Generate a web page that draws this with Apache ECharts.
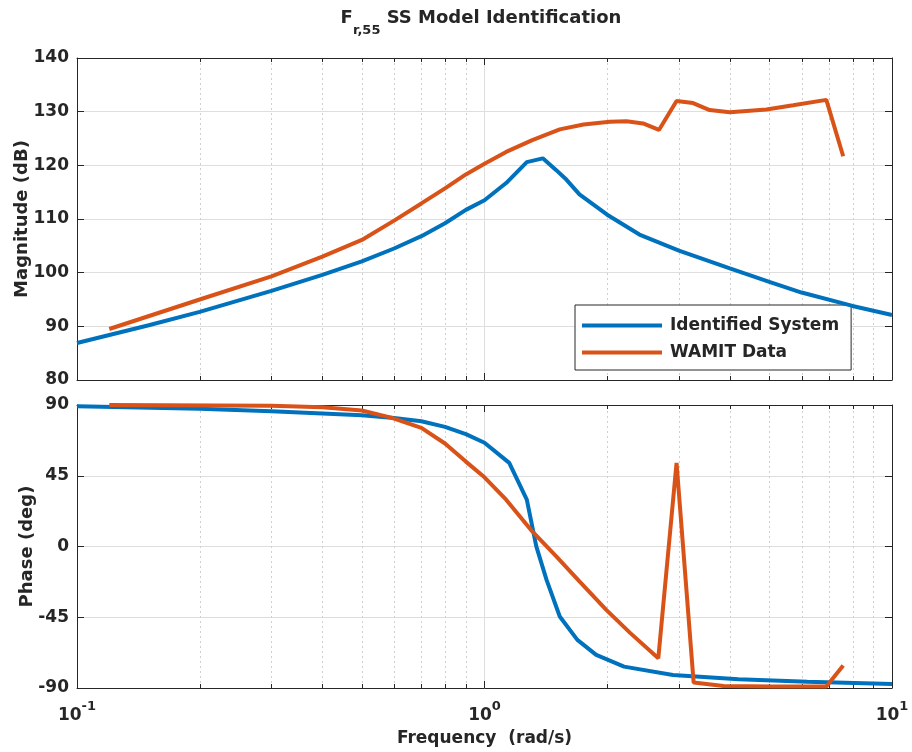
<!DOCTYPE html>
<html><head><meta charset="utf-8">
<script src="https://cdn.jsdelivr.net/npm/echarts@6/dist/echarts.min.js"></script>
<style>html,body{margin:0;padding:0;background:#fff}#c{width:912px;height:752px}</style>
</head><body><div id="c"></div>
<script>
// ---- data ----
const ID_MAG_FREQ = [0.1, 0.15, 0.2, 0.3, 0.4, 0.5, 0.6, 0.7, 0.8, 0.9, 1.0, 1.13, 1.27, 1.39, 1.5, 1.59, 1.71, 2.0, 2.4, 3.0, 4.0, 5.0, 6.0, 8.0, 10];
const ID_MAG      = [86.9, 90.2, 92.7, 96.6, 99.6, 102.1, 104.5, 106.8, 109.2, 111.7, 113.5, 116.7, 120.6, 121.3, 119.1, 117.3, 114.6, 110.8, 107.1, 104.1, 100.8, 98.3, 96.3, 93.8, 92.1];

const WAMIT_MAG_FREQ = [0.12, 0.2, 0.3, 0.4, 0.5, 0.6, 0.7, 0.8, 0.9, 1.0, 1.13, 1.31, 1.53, 1.75, 2.03, 2.23, 2.45, 2.68, 2.96, 3.25, 3.57, 4.0, 4.92, 5.72, 6.9, 7.59];
const WAMIT_MAG      = [89.5, 95.0, 99.3, 103.0, 106.1, 109.7, 112.9, 115.7, 118.3, 120.3, 122.5, 124.7, 126.7, 127.6, 128.1, 128.2, 127.8, 126.6, 132.0, 131.6, 130.3, 129.9, 130.4, 131.2, 132.2, 121.7];

const ID_PH_FREQ = [0.1, 0.2, 0.3, 0.5, 0.6, 0.7, 0.8, 0.9, 1.0, 1.15, 1.27, 1.34, 1.42, 1.53, 1.69, 1.88, 2.2, 2.9, 4.2, 6.2, 10];
const ID_PH      = [89.2, 87.6, 86.0, 83.5, 81.8, 79.7, 76.1, 71.5, 66.0, 53.2, 29.8, 0.1, -21.2, -44.5, -59.4, -68.9, -76.4, -81.7, -84.4, -86.0, -87.4];

const WAMIT_PH_FREQ = [0.12, 0.3, 0.4, 0.5, 0.59, 0.7, 0.8, 0.9, 1.0, 1.13, 1.31, 1.50, 1.71, 1.99, 2.28, 2.67, 2.96, 3.26, 3.86, 5.1, 6.9, 7.59];
const WAMIT_PH      = [90, 89.5, 88.5, 86.5, 82.0, 75.5, 65.5, 54.0, 44.0, 29.8, 9.6, -6.3, -22.2, -40.3, -55.1, -71.1, 53.2, -86.5, -88.7, -89.1, -89.1, -75.7];

const MINOR_FREQS = [0.2, 0.3, 0.4, 0.5, 0.6, 0.7, 0.8, 0.9, 2, 3, 4, 5, 6, 7, 8, 9];
const SERIES_NAMES = ['Identified System', 'WAMIT Data'];
const TITLE_MAIN = 'F', TITLE_SUB = 'r,55', TITLE_REST = ' SS Model Identification';

// ---- chart ----
const FONT = 'DejaVu Sans';
const INK = '#262626';
const GRIDC = '#dedede';
const zip = (a, b) => a.map((v, i) => [v, b[i]]);

function minorGrid(yMin, yMax) {
  return function (params, api) {
    const x = api.value(0);
    const p0 = api.coord([x, yMin]);
    const p1 = api.coord([x, yMax]);
    const xx = Math.round(p0[0]) + 0.5;
    return { type: 'group', children: [
      { type: 'line', shape: { x1: xx, y1: p0[1], x2: xx, y2: p1[1] }, style: { stroke: '#cfcfcf', lineWidth: 1, lineDash: [2, 3] } },
      { type: 'line', shape: { x1: xx, y1: p0[1], x2: xx, y2: p0[1] - 4 }, style: { stroke: INK, lineWidth: 1 } },
      { type: 'line', shape: { x1: xx, y1: p1[1], x2: xx, y2: p1[1] + 4 }, style: { stroke: INK, lineWidth: 1 } }
    ]};
  };
}

const supLabel = {
  formatter: v => '{b|10}{s|' + Math.round(Math.log10(v)) + '}',
  margin: 12,
  rich: {
    b: { fontFamily: FONT, fontWeight: 'bold', fontSize: 17, color: INK, lineHeight: 24, verticalAlign: 'bottom' },
    s: { fontFamily: FONT, fontWeight: 'bold', fontSize: 13, color: INK, lineHeight: 24, verticalAlign: 'top' }
  }
};

function xAx(gridIndex, position, opts) {
  return Object.assign({
    type: 'log', logBase: 10, min: 0.1, max: 10, gridIndex, position,
    axisLine: { show: true, onZero: false, lineStyle: { color: INK, width: 1 } },
    axisTick: { show: true, inside: true, length: 7, lineStyle: { color: INK } },
    axisLabel: { show: false },
    splitLine: { show: false },
    minorTick: { show: false }
  }, opts || {});
}
function yAx(gridIndex, position, min, max, interval, opts) {
  return Object.assign({
    type: 'value', gridIndex, position, min, max, interval,
    axisLine: { show: true, onZero: false, lineStyle: { color: INK, width: 1 } },
    axisTick: { show: true, inside: true, length: 7, lineStyle: { color: INK } },
    axisLabel: { show: false },
    splitLine: { show: false }
  }, opts || {});
}
const yLabel = { show: true, fontFamily: FONT, fontWeight: 'bold', fontSize: 17, color: INK, margin: 8 };
const yName = { fontFamily: FONT, fontWeight: 'bold', fontSize: 18, color: INK };

const lineSeries = (name, xi, yi, data, color) => ({
  name, type: 'line', xAxisIndex: xi, yAxisIndex: yi, data,
  symbol: 'none', smooth: false, z: 5,
  lineStyle: { width: 4, color }, itemStyle: { color }
});

const option = {
  animation: false,
  backgroundColor: '#fff',
  title: {
    text: '{a|' + TITLE_MAIN + '}{b|' + TITLE_SUB + '}{c|' + TITLE_REST + '}',
    left: 481, top: 9, textAlign: 'center', padding: 0,
    textStyle: {
      rich: {
        a: { fontFamily: FONT, fontWeight: 'bold', fontSize: 18, color: INK, lineHeight: 28, verticalAlign: 'top' },
        b: { fontFamily: FONT, fontWeight: 'bold', fontSize: 13, color: INK, lineHeight: 28, verticalAlign: 'bottom' },
        c: { fontFamily: FONT, fontWeight: 'bold', fontSize: 18, color: INK, lineHeight: 28, verticalAlign: 'top' }
      }
    }
  },
  legend: {
    data: SERIES_NAMES,
    orient: 'vertical', left: 575, top: 305,
    icon: 'rect', itemWidth: 80, itemHeight: 4, itemGap: 10,
    padding: [12, 12, 9, 7],
    backgroundColor: '#fff', borderColor: INK, borderWidth: 1, borderRadius: 0,
    textStyle: { fontFamily: FONT, fontWeight: 'bold', fontSize: 17, color: INK, padding: [0, 0, 0, 3] }
  },
  grid: [
    { left: 77, right: 20, top: 58, height: 322 },
    { left: 77, right: 20, top: 405, height: 283 }
  ],
  xAxis: [
    xAx(0, 'bottom', { splitLine: { show: true, lineStyle: { color: GRIDC, width: 1 } } }),
    xAx(0, 'top'),
    xAx(1, 'bottom', {
      axisLabel: Object.assign({ show: true }, supLabel),
      splitLine: { show: true, lineStyle: { color: GRIDC, width: 1 } },
      name: 'Frequency  (rad/s)', nameLocation: 'middle', nameGap: 42,
      nameTextStyle: { fontFamily: FONT, fontWeight: 'bold', fontSize: 17, color: INK }
    }),
    xAx(1, 'top')
  ],
  yAxis: [
    yAx(0, 'left', 80, 140, 10, {
      axisLabel: yLabel,
      splitLine: { show: true, lineStyle: { color: GRIDC, width: 1 } },
      name: 'Magnitude (dB)', nameLocation: 'middle', nameGap: 46, nameMoveOverlap: false, nameTextStyle: yName
    }),
    yAx(0, 'right', 80, 140, 10),
    yAx(1, 'left', -90, 90, 45, {
      axisLabel: yLabel,
      splitLine: { show: true, lineStyle: { color: GRIDC, width: 1 } },
      name: 'Phase (deg)', nameLocation: 'middle', nameGap: 41, nameMoveOverlap: false, nameTextStyle: yName
    }),
    yAx(1, 'right', -90, 90, 45)
  ],
  series: [
    { type: 'custom', xAxisIndex: 0, yAxisIndex: 0, z: 1, silent: true,
      data: MINOR_FREQS.map(f => [f, 80]), renderItem: minorGrid(80, 140) },
    { type: 'custom', xAxisIndex: 2, yAxisIndex: 2, z: 1, silent: true,
      data: MINOR_FREQS.map(f => [f, -90]), renderItem: minorGrid(-90, 90) },
    lineSeries(SERIES_NAMES[0], 0, 0, zip(ID_MAG_FREQ, ID_MAG), '#0072BD'),
    lineSeries(SERIES_NAMES[1], 0, 0, zip(WAMIT_MAG_FREQ, WAMIT_MAG), '#D95319'),
    lineSeries(SERIES_NAMES[0], 2, 2, zip(ID_PH_FREQ, ID_PH), '#0072BD'),
    lineSeries(SERIES_NAMES[1], 2, 2, zip(WAMIT_PH_FREQ, WAMIT_PH), '#D95319')
  ]
};
const chart = echarts.init(document.getElementById('c'), null, { renderer: 'canvas' });
chart.setOption(option);
</script>
</body></html>
